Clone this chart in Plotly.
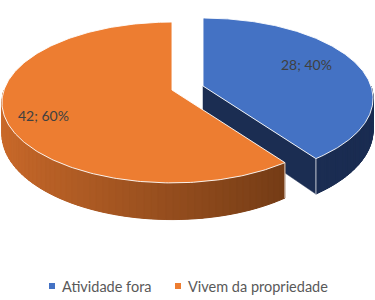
import numpy as np
import plotly.graph_objects as go

# ---- data ----
categories = ["Atividade fora", "Vivem da propriedade"]
values = [28, 42]
top_colors = ["#4472c4", "#ed7d31"]
side_light = ["#1b2d52", "#cc6b2b"]
side_dark = ["#1b2d52", "#5e3011"]

# ---- geometry (style/layout) ----
W, H = 375, 300
cx, cy, rx, ry, depth, k = 172, 90, 168, 78.5, 31, 0.155
explode = [(31, -4), (0, 0)]

total = sum(values)
fracs = [v / total for v in values]


def proj(theta, dx, dy, z=0.0):
    u, v = np.cos(theta), np.sin(theta)
    s = 1.0 / (1.0 + k * v)
    return cx + dx + rx * u * s, cy + dy - ry * v * s + z * s


def hex2rgb(h):
    return np.array([int(h[i:i + 2], 16) for i in (1, 3, 5)], dtype=float)


fig = go.Figure()
side_traces, top_traces, label_txt = [], [], []

start = np.pi / 2  # 12 o'clock, clockwise
for i, f in enumerate(fracs):
    a0, a1 = start, start - 2 * np.pi * f
    dx, dy = explode[i]
    th = np.linspace(a0, a1, 240)
    ex, ey = proj(th, dx, dy)
    apx, apy = cx + dx, cy + dy
    top_traces.append(go.Scatter(
        x=np.r_[apx, ex, apx], y=np.r_[apy, ey, apy], fill="toself",
        fillcolor=top_colors[i], mode="lines",
        line=dict(color="rgba(255,255,255,0.9)", width=1),
        hoverinfo="skip", showlegend=False))
    # cut face at the end angle (visible for the exploded slice)
    if i == 0:
        x1, y1 = proj(a1, dx, dy)
        x2, y2 = proj(a1, dx, dy, depth)
        side_traces.append(go.Scatter(
            x=[apx, x1, x2, apx, apx], y=[apy, y1, y2, apy + depth, apy],
            fill="toself", fillcolor=side_light[i], mode="lines",
            line=dict(color=side_light[i], width=0.5),
            hoverinfo="skip", showlegend=False))
    # rim on the front half (sin < 0)
    lo, hi = min(a0, a1), max(a0, a1)
    segs = []
    for base in (-np.pi, np.pi):
        s_, e_ = max(lo, base), min(hi, base + np.pi)
        if e_ > s_:
            segs.append((s_, e_))
    c0, c1 = hex2rgb(side_light[i]), hex2rgb(side_dark[i])
    for (s_, e_) in segs:
        tt = np.linspace(s_, e_, 150)
        px, py = proj(tt, dx, dy)
        bx, by = proj(tt, dx, dy, depth)
        midc = ((c0 + c1) / 2).astype(int)
        side_traces.append(go.Scatter(
            x=np.r_[px, bx[::-1], px[0]], y=np.r_[py, by[::-1], py[0]],
            fill="toself", fillcolor="rgb(%d,%d,%d)" % tuple(midc), mode="lines",
            line=dict(width=0), hoverinfo="skip", showlegend=False))
        nseg = 60
        edges = np.linspace(s_, e_, nseg + 1)
        for j in range(nseg):
            t2 = np.linspace(edges[j], edges[j + 1], 5)
            qx, qy = proj(t2, dx, dy)
            rx2, ry2 = proj(t2, dx, dy, depth)
            w = (np.cos((edges[j] + edges[j + 1]) / 2) + 1) / 2
            c = (c0 * (1 - w) + c1 * w).astype(int)
            col = "rgb(%d,%d,%d)" % tuple(c)
            side_traces.append(go.Scatter(
                x=np.r_[qx, rx2[::-1], qx[0]], y=np.r_[qy, ry2[::-1], qy[0]],
                fill="toself", fillcolor=col, mode="lines",
                line=dict(color=col, width=1), hoverinfo="skip", showlegend=False))
        # light vertical edge at slice ends (not at silhouette)
        for ang in (s_, e_):
            if abs(np.sin(ang)) > 1e-6:
                vx0, vy0 = proj(ang, dx, dy)
                vx1, vy1 = proj(ang, dx, dy, depth)
                side_traces.append(go.Scatter(
                    x=[vx0, vx1], y=[vy0, vy1], mode="lines",
                    line=dict(color="rgba(255,255,255,0.75)", width=1),
                    hoverinfo="skip", showlegend=False))
    label_txt.append(f"{values[i]}; {f:.0%}")
    start = a1

for t in side_traces + top_traces:
    fig.add_trace(t)

label_pos = [(306, 64), (43, 115)]
for txt, (lx, ly) in zip(label_txt, label_pos):
    fig.add_annotation(x=lx, y=ly, text=txt, showarrow=False,
                       font=dict(family="Lato", size=14, color="#404040"))

# legend (keys as shapes, names as text)
legend_key_x = [52, 178]
legend_y = 286
for cat, col, kx in zip(categories, top_colors, legend_key_x):
    fig.add_shape(type="rect", x0=kx - 3, x1=kx + 3, y0=legend_y - 3, y1=legend_y + 3,
                  fillcolor=col, line=dict(width=0))
    fig.add_annotation(x=kx + 8, y=legend_y, text=cat, showarrow=False,
                       xanchor="left", yanchor="middle",
                       font=dict(family="Lato", size=14.5, color="#595959"))

fig.update_layout(
    width=W, height=H, margin=dict(l=0, r=0, t=0, b=0),
    paper_bgcolor="white", plot_bgcolor="white", showlegend=False,
    xaxis=dict(range=[0, W], visible=False, fixedrange=True),
    yaxis=dict(range=[H, 0], visible=False, fixedrange=True),
)

fig.write_html("out.html")
